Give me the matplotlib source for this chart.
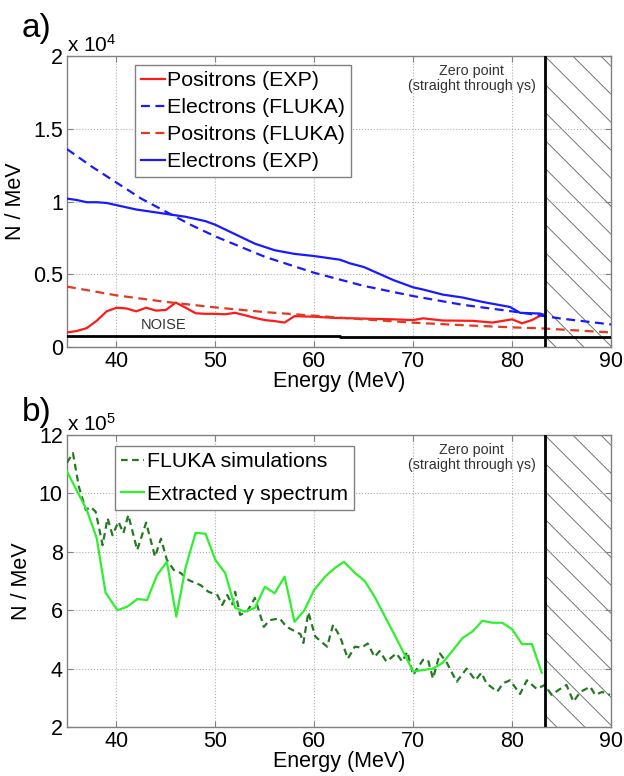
import numpy as np
import matplotlib
matplotlib.use('Agg')
import matplotlib.pyplot as plt
from matplotlib.patches import Rectangle

plt.rcParams['font.family'] = ['Liberation Sans', 'DejaVu Sans']
plt.rcParams['mathtext.fontset'] = 'custom'
plt.rcParams['mathtext.rm'] = 'Liberation Sans'
plt.rcParams['mathtext.it'] = 'Liberation Sans:italic'

# ---- panel a data (units of 1e4 per MeV) ----
e_exp_energy = [35, 36, 37, 38, 39, 40, 42, 43, 45, 47, 49, 50, 52, 54, 56, 58, 60,
                62.6, 63.6, 65, 66, 68, 70, 71, 73, 75, 77, 79.8, 80.8, 82.8, 83.3]
e_exp = [1.02, 1.01, 0.995, 0.995, 0.99, 0.975, 0.945, 0.935, 0.915, 0.895, 0.865, 0.84,
         0.775, 0.71, 0.665, 0.64, 0.625, 0.60, 0.575, 0.55, 0.52, 0.46, 0.41, 0.395,
         0.36, 0.34, 0.31, 0.275, 0.235, 0.23, 0.22]

p_exp_energy = [35, 36, 37, 38, 39, 40, 41, 42, 43, 44, 45, 46, 47, 48, 49, 50, 51, 52,
                53, 54, 55, 56, 57, 58, 59, 60, 62, 65, 68, 70, 71, 73, 76, 78, 80, 81,
                82, 83]
p_exp = [0.10, 0.11, 0.13, 0.18, 0.245, 0.27, 0.265, 0.245, 0.27, 0.25, 0.255, 0.305,
         0.27, 0.232, 0.228, 0.228, 0.225, 0.235, 0.218, 0.20, 0.185, 0.178, 0.168,
         0.212, 0.21, 0.208, 0.20, 0.195, 0.19, 0.185, 0.197, 0.182, 0.18, 0.168, 0.19,
         0.163, 0.185, 0.22]

e_fluka_energy = [35, 37.5, 40, 42.5, 45, 47.5, 50, 55, 60, 65, 70, 75, 80, 85, 90]
e_fluka = [1.36, 1.24, 1.13, 1.02, 0.93, 0.84, 0.76, 0.62, 0.51, 0.42, 0.35, 0.29,
           0.245, 0.195, 0.155]

p_fluka_energy = [35, 40, 45, 50, 55, 60, 65, 70, 75, 80, 83, 85, 90]
p_fluka = [0.415, 0.355, 0.31, 0.272, 0.24, 0.215, 0.19, 0.167, 0.15, 0.135, 0.128,
           0.12, 0.10]

noise_energy = [35, 62.6, 62.6, 90]
noise_level = [0.075, 0.075, 0.072, 0.072]

# ---- panel b data (units of 1e5 per MeV) ----
g_exp_energy = [35, 37, 38, 38.9, 40.1, 41.1, 42.1, 43.1, 44.1, 45.1, 46.05, 47, 48, 49,
                50, 51, 52, 53, 54, 55, 56, 57, 58, 59, 60, 61.1, 62.1, 63, 64.1, 65.1,
                66.1, 68.2, 70, 72, 73, 75, 76, 77, 78, 79, 80, 81, 82, 83]
g_exp = [10.75, 9.43, 8.47, 6.6, 6.0, 6.12, 6.38, 6.35, 7.2, 7.66, 5.78, 7.48, 8.65,
         8.62, 7.72, 7.27, 6.08, 5.95, 6.08, 6.8, 6.58, 7.15, 5.6, 6.0, 6.7, 7.15, 7.45,
         7.66, 7.28, 7.0, 6.46, 5.1, 3.9, 4.0, 4.2, 5.05, 5.27, 5.64, 5.57, 5.57, 5.35,
         4.84, 4.84, 3.86]

g_fluka_energy = [35, 35.6, 36.2, 36.9, 37.4, 37.9, 38.6, 39.1, 39.6, 40.2, 40.7, 41.2,
                  42.1, 43, 43.9, 44.5, 45.1, 45.8, 46.5, 47.3, 48.5, 49.3, 50.2, 50.7,
                  51.2, 51.7, 52, 52.5, 53.2, 54, 54.9, 55.5, 56.5, 57.2, 58.6, 58.9,
                  59.4, 60.1, 61.3, 61.9, 62.6, 63.4, 64.1, 64.8, 65.4, 66.1, 66.6, 67.3,
                  68.3, 68.9, 69.4, 70, 70.5, 71, 71.5, 72, 72.7, 73.4, 74.4, 75.4, 76.3,
                  76.9, 77.4, 78.5, 79.1, 79.8, 80.8, 81.5, 82.5, 83.3, 84, 84.7, 85.5,
                  86.2, 86.9, 87.9, 88.4, 89.1, 89.9]
g_fluka = [11.05, 11.38, 10.23, 9.43, 9.54, 9.37, 8.23, 9.15, 8.57, 9.03, 8.64, 9.26,
           8.06, 9.0, 7.83, 8.45, 7.72, 7.38, 7.27, 7.03, 6.86, 6.63, 6.52, 6.18, 6.52,
           6.2, 6.63, 5.84, 5.95, 6.42, 5.43, 5.66, 5.72, 5.43, 5.18, 4.88, 5.93, 5.1,
           4.75, 5.5, 5.1, 4.34, 4.75, 4.72, 4.86, 4.4, 4.6, 4.24, 4.52, 4.24, 4.58, 3.78,
           4.05, 4.3, 4.3, 3.66, 4.52, 4.2, 3.55, 4.0, 3.6, 3.86, 3.5, 3.21, 3.5, 3.6,
           3.13, 3.6, 3.3, 3.44, 3.1, 3.27, 3.44, 2.87, 3.2, 3.38, 3.1, 3.2, 3.1]

zero_point = 83.3
xticks = [40, 50, 60, 70, 80, 90]

W, H = 624, 776
fig = plt.figure(figsize=(W / 100, H / 100), dpi=100)


def style_axes(ax, ylim, yticks):
    ax.set_xlim(35, 90)
    ax.set_ylim(*ylim)
    ax.set_xticks(xticks)
    ax.set_yticks(yticks)
    ax.set_yticklabels(['%g' % t for t in yticks])
    ax.grid(True, linestyle=':', color='#b0b0b0', linewidth=0.8)
    for s in ax.spines.values():
        s.set_color('#808080')
        s.set_linewidth(1.0)
    ax.tick_params(direction='in', top=True, right=True, length=4, color='#808080',
                   labelsize=15.5, pad=3)
    ax.set_xlabel('Energy (MeV)', fontsize=15.5, labelpad=-1)
    ax.set_ylabel('N / MeV', fontsize=15.5, labelpad=5)


def hatch_region(ax, x0, x1, spacing=28):
    # diagonal "\" lines, 45 degrees in pixel space
    pos = ax.get_position()
    pw, ph = pos.width * W, pos.height * H
    (xa, xb), (ya, yb) = ax.get_xlim(), ax.get_ylim()
    sx, sy = (xb - xa) / pw, (yb - ya) / ph
    clip = Rectangle((x0, ya), x1 - x0, yb - ya, transform=ax.transData,
                     facecolor='none', edgecolor='none')
    ax.add_patch(clip)
    n = int((ph + (x1 - x0) / sx) / spacing) + 2
    for k in range(-2, n):
        c = x0 - k * spacing * sx  # x where line crosses top edge
        xs = np.array([c, c + ph * 1.2 * sx + (x1 - x0)])
        ys = yb - (xs - c) / sx * sy
        ln, = ax.plot(xs, ys, color='#606060', lw=0.6, zorder=1)
        ln.set_clip_path(clip)
    ax.axvline(zero_point, color='black', lw=2, zorder=5)


def zero_text(ax):
    ax.text(75.9, 0.972, 'Zero point\n(straight through γs)', transform=ax.get_xaxis_transform(),
            ha='center', va='top', fontsize=10.3, color='#333333', linespacing=1.05)


def add_legend(ax, anchor, spacing):
    leg = ax.legend(loc='upper left', bbox_to_anchor=anchor, fontsize=15.4,
                    handlelength=1.1, handletextpad=0.12, labelspacing=spacing,
                    borderpad=0.28, borderaxespad=0, fancybox=False, framealpha=1,
                    edgecolor='#808080')
    leg.get_frame().set_linewidth(1.0)


# ---- panel a ----
ax1 = fig.add_axes([67 / W, 1 - 347 / H, 544 / W, 291 / H])
style_axes(ax1, (0, 2), [0, 0.5, 1, 1.5, 2])
hatch_region(ax1, zero_point, 90)
ax1.plot(p_exp_energy, p_exp, color='#ff1a1a', lw=1.6, label='Positrons (EXP)', zorder=3)
ax1.plot(e_fluka_energy, e_fluka, color='#1a1aff', lw=1.6, ls=(0, (4, 2.5)),
         label='Electrons (FLUKA)', zorder=3)
ax1.plot(p_fluka_energy, p_fluka, color='#e03a22', lw=1.6, ls=(0, (4, 2.5)),
         label='Positrons (FLUKA)', zorder=3)
ax1.plot(e_exp_energy, e_exp, color='#1a1aff', lw=1.6, label='Electrons (EXP)', zorder=3)
ax1.plot(noise_energy, noise_level, color='black', lw=2, zorder=4)
ax1.text(44.8, 0.148, 'NOISE', ha='center', va='center', fontsize=10.5, color='#333333')
zero_text(ax1)
add_legend(ax1, (0.125, 0.969), 0.375)
ax1.text(0.0, 1.0, r'x 10$^{4}$', transform=ax1.transAxes, ha='left', va='bottom',
         fontsize=15)
fig.text(22 / W, 1 - 29 / H, 'a)', fontsize=24, ha='left', va='center')

# ---- panel b ----
ax2 = fig.add_axes([67 / W, 1 - 727 / H, 544 / W, 292 / H])
style_axes(ax2, (2, 12), [2, 4, 6, 8, 10, 12])
hatch_region(ax2, zero_point, 90)
ax2.plot(g_fluka_energy, g_fluka, color='#237a23', lw=1.6, ls=(0, (3, 2)),
         label='FLUKA simulations', zorder=3)
ax2.plot(g_exp_energy, g_exp, color='#2ef02e', lw=1.6, label='Extracted γ spectrum',
         zorder=3)
zero_text(ax2)
add_legend(ax2, (0.088, 0.962), 0.63)
ax2.text(0.0, 1.0, r'x 10$^{5}$', transform=ax2.transAxes, ha='left', va='bottom',
         fontsize=15)
fig.text(22 / W, 1 - 413 / H, 'b)', fontsize=24, ha='left', va='center')

fig.savefig('out.png', dpi=100)
